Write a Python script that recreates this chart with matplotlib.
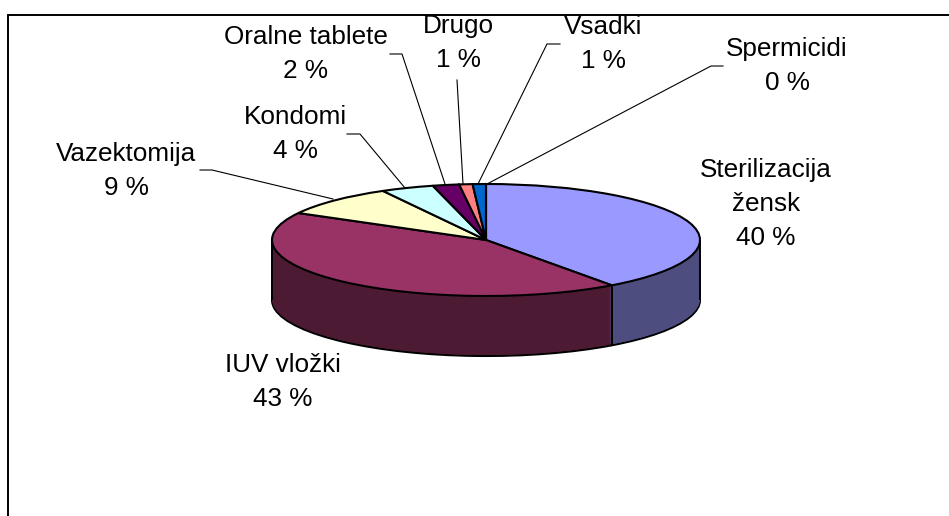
import math
import matplotlib
matplotlib.use("Agg")
import matplotlib.pyplot as plt

categories = ["Sterilizacija\nžensk", "IUV vložki", "Vazektomija", "Kondomi",
              "Oralne tablete", "Drugo", "Vsadki", "Spermicidi"]
values = [40, 43, 9, 4, 2, 1, 1, 0]
top_colors = ["#9999FF", "#993366", "#FFFFCC", "#CCFFFF", "#660066", "#FF8080", "#0066CC", "#CCCCFF"]
side_colors = ["#4D4D80", "#4D1A33", "#808066", "#668080", "#330033", "#804040", "#003366", "#666680"]

W, H = 949, 516
CX, CY, A, B, DEPTH = 486, 240, 214, 56, 60
label_pos = [(766, 204), (283, 382), (126, 171), (295, 134), (306, 54), (458, 43), (603, 44), (787, 66)]
leaders = [None, None,
           [(200, 170), (212, 170), (333, 199)],
           [(347, 134), (360, 134), (405, 188)],
           [(390, 54), (402, 54), (445, 184)],
           [(457, 80), (463, 184)],
           [(560, 44), (547, 44), (478, 184)],
           [(723, 66), (711, 66), (487, 184)]]

plt.rcParams["font.family"] = ["Liberation Sans", "DejaVu Sans"]
fig = plt.figure(figsize=(W / 100, H / 100), dpi=100, facecolor="white")

# Pie axes spans exactly the top ellipse; data units are ellipse radii
ax = fig.add_axes([(CX - A) / W, 1 - (CY + B) / H, 2 * A / W, 2 * B / H])
kw = dict(startangle=90, counterclock=False, radius=1, normalize=True)
dy = 1 / B
ax.pie(values, colors=side_colors, center=(0, -DEPTH * dy),
       wedgeprops=dict(edgecolor="black", linewidth=1.5), **kw)
for d in range(DEPTH - 1, 0, -1):
    ax.pie(values, colors=side_colors, center=(0, -d * dy),
           wedgeprops=dict(edgecolor="none", linewidth=0), **kw)

# Vertical side edges, at the ellipse extremes and the first slice boundary
boundary = math.radians(360 * values[0] / sum(values))
for x, y in [(-1, 0), (1, 0), (math.sin(boundary), math.cos(boundary))]:
    ax.plot([x, x], [y, y - DEPTH * dy], color="black", lw=1.4, clip_on=False,
            solid_capstyle="butt", zorder=5)

wedges, _ = ax.pie(values, colors=top_colors, center=(0, 0),
                   wedgeprops=dict(edgecolor="black", linewidth=1.5, zorder=6), **kw)
ax.set_aspect("auto")
ax.set_xlim(-1, 1)
ax.set_ylim(-1, 1)
ax.axis("off")
for p in ax.patches:
    p.set_clip_on(False)

# Overlay in pixel space for frame, leaders and labels
ov = fig.add_axes([0, 0, 1, 1], facecolor="none")
ov.set_xlim(0, W)
ov.set_ylim(H, 0)
ov.axis("off")
ov.plot([8, 8, W], [H, 15, 15], color="black", lw=1.4, solid_joinstyle="miter")
for pts in leaders:
    if pts:
        ov.plot([p[0] for p in pts], [p[1] for p in pts], color="black", lw=0.8)
for cat, val, (x, y) in zip(categories, values, label_pos):
    ov.text(x, y, f"{cat}\n{val} %", ha="center", va="center", fontsize=18.8,
            linespacing=1.53, color="black")

fig.savefig("out.png", dpi=100)
